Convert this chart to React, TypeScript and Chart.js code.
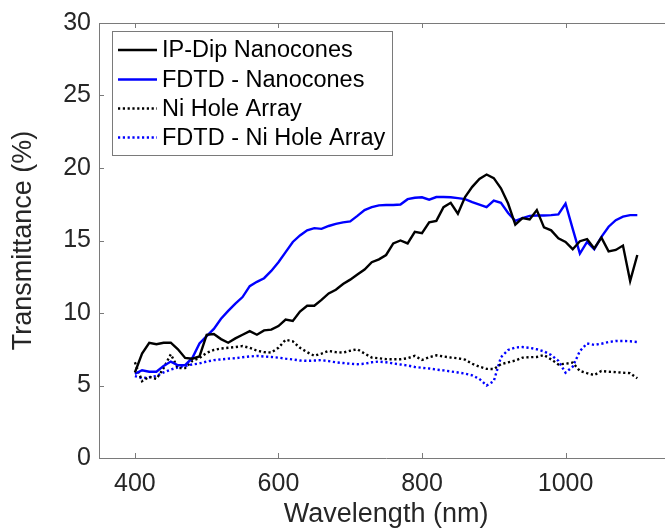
import React, { useEffect, useRef } from 'react';
import { Chart, registerables } from 'chart.js';

Chart.register(...registerables);

const wavelengths = [
  400, 410, 420, 430, 440, 450, 460, 470, 480, 490,
  500, 510, 520, 530, 540, 550, 560, 570, 580, 590,
  600, 610, 620, 630, 640, 650, 660, 670, 680, 690,
  700, 710, 720, 730, 740, 750, 760, 770, 780, 790,
  800, 810, 820, 830, 840, 850, 860, 870, 880, 890,
  900, 910, 920, 930, 940, 950, 960, 970, 980, 990,
  1000, 1010, 1020, 1030, 1040, 1050, 1060, 1070, 1080, 1090,
  1100,
];

const ipDipNanocones = [
  5.9, 7.2, 7.95, 7.85, 7.95, 7.95, 7.5, 6.9, 6.85, 7.0,
  8.5, 8.55, 8.2, 7.95, 8.25, 8.5, 8.75, 8.5, 8.8, 8.85,
  9.1, 9.55, 9.45, 10.1, 10.5, 10.5, 10.9, 11.35, 11.6, 12.0,
  12.3, 12.65, 13.0, 13.5, 13.7, 14.0, 14.8, 15.0, 14.8, 15.6,
  15.5, 16.25, 16.35, 17.3, 17.6, 16.85, 18.0, 18.7, 19.25, 19.55,
  19.3, 18.6, 17.55, 16.1, 16.55, 16.45, 17.1, 15.9, 15.7, 15.15,
  14.9, 14.4, 14.95, 15.1, 14.45, 15.2, 14.25, 14.35, 14.65, 12.2,
  14.0,
];

const fdtdNanocones = [
  5.8, 6.05, 5.95, 5.95, 6.35, 6.65, 6.4, 6.4, 6.9, 7.9,
  8.4, 8.9, 9.6, 10.15, 10.65, 11.1, 11.85, 12.15, 12.4, 12.9,
  13.5, 14.2, 14.9, 15.35, 15.7, 15.85, 15.8, 16.0, 16.15, 16.25,
  16.32, 16.7, 17.1, 17.3, 17.42, 17.45, 17.45, 17.48, 17.85, 17.95,
  17.98, 17.82, 18.0, 18.0, 17.98, 17.92, 17.85, 17.65, 17.48, 17.3,
  17.75, 17.6, 16.9, 16.35, 16.55, 16.7, 16.72, 16.72, 16.75, 16.8,
  17.55, 15.8, 14.1, 14.9, 14.4, 15.25, 15.95, 16.4, 16.65, 16.75,
  16.75,
];

const niHoleArray = [
  6.6, 5.3, 5.6, 5.45, 6.2, 7.15, 6.2, 6.2, 6.7, 6.9,
  7.25, 7.45, 7.55, 7.6, 7.65, 7.72, 7.6, 7.4, 7.3, 7.27,
  7.6, 8.15, 8.05, 7.6, 7.3, 7.05, 7.2, 7.38, 7.3, 7.27,
  7.4, 7.5, 7.2, 6.93, 6.88, 6.82, 6.81, 6.81, 6.88, 7.04,
  6.76, 6.95, 7.08, 7.0, 6.93, 6.88, 6.78, 6.5, 6.3, 6.15,
  6.13, 6.47, 6.6, 6.72, 6.92, 6.95, 6.97, 7.1, 6.8, 6.45,
  6.5, 6.58, 6.0, 5.85, 5.72, 6.0, 5.95, 5.92, 5.88, 5.85,
  5.5,
];

const fdtdNiHoleArray = [
  5.65, 5.5, 5.57, 5.65, 5.9, 6.1, 6.25, 6.35, 6.45, 6.52,
  6.65, 6.75, 6.8, 6.85, 6.88, 6.95, 7.0, 7.04, 7.0, 6.97,
  6.92, 6.85, 6.8, 6.72, 6.7, 6.72, 6.75, 6.68, 6.6, 6.55,
  6.5, 6.47, 6.5, 6.6, 6.65, 6.6, 6.52, 6.45, 6.38, 6.28,
  6.22, 6.17, 6.1, 6.04, 5.97, 5.9, 5.82, 5.7, 5.45, 5.0,
  5.3, 6.95, 7.45, 7.62, 7.65, 7.6, 7.5, 7.35, 7.1, 6.7,
  5.88, 6.3, 7.38, 7.9, 7.8, 7.88, 8.0, 8.07, 8.07, 8.05,
  8.0,
];

const seriesLabels = ['IP-Dip Nanocones', 'FDTD - Nanocones', 'Ni Hole Array', 'FDTD - Ni Hole Array'];
const xTickValues = [400, 600, 800, 1000];
const yTickValues = [0, 5, 10, 15, 20, 25, 30];

const FONT = "'Liberation Sans', Arial, Helvetica, sans-serif";
const AXIS_COLOR = '#7a7a7a';
const TEXT_COLOR = '#262626';

const toPoints = (ys: number[]) => ys.map((y, i) => ({ x: wavelengths[i], y }));

const frameAndLegend = {
  id: 'frameAndLegend',
  afterDatasetsDraw(chart: any) {
    const { ctx, chartArea } = chart;
    const { left, right, top, bottom } = chartArea;
    const xs = chart.scales.x;
    const ys = chart.scales.y;
    ctx.save();
    ctx.strokeStyle = AXIS_COLOR;
    ctx.lineWidth = 1;
    ctx.beginPath();
    ctx.moveTo(left, Math.round(top) + 0.5);
    ctx.lineTo(right + 10, Math.round(top) + 0.5);
    ctx.stroke();
    const tl = 5;
    ctx.beginPath();
    xTickValues.forEach((v) => {
      const px = Math.round(xs.getPixelForValue(v)) + 0.5;
      ctx.moveTo(px, bottom);
      ctx.lineTo(px, bottom - tl);
      ctx.moveTo(px, top);
      ctx.lineTo(px, top + tl);
    });
    yTickValues.forEach((v) => {
      const py = Math.round(ys.getPixelForValue(v)) + 0.5;
      ctx.moveTo(left, py);
      ctx.lineTo(left + tl, py);
      ctx.moveTo(right, py);
      ctx.lineTo(right - tl, py);
    });
    ctx.stroke();

    const bx = 112.5, by = 31.5, bw = 280, bh = 124;
    ctx.fillStyle = '#ffffff';
    ctx.fillRect(bx, by, bw, bh);
    ctx.strokeStyle = AXIS_COLOR;
    ctx.strokeRect(bx, by, bw, bh);
    const rows = [50, 79.5, 108.5, 137.5];
    chart.data.datasets.forEach((ds: any, i: number) => {
      const y = rows[i];
      ctx.strokeStyle = ds.borderColor;
      ctx.lineWidth = ds.borderWidth;
      ctx.setLineDash(ds.borderDash || []);
      ctx.lineCap = 'butt';
      ctx.beginPath();
      ctx.moveTo(118, y);
      ctx.lineTo(157, y);
      ctx.stroke();
      ctx.setLineDash([]);
      ctx.fillStyle = '#000000';
      ctx.font = `23.5px ${FONT}`;
      ctx.textBaseline = 'middle';
      ctx.textAlign = 'left';
      ctx.fillText(ds.label, 162, y + 1);
    });
    ctx.restore();
  },
};

export default function App() {
  const canvasRef = useRef<HTMLCanvasElement | null>(null);

  useEffect(() => {
    if (!canvasRef.current) return;
    const chart = new Chart(canvasRef.current, {
      type: 'line',
      data: {
        datasets: [
          {
            label: seriesLabels[0],
            data: toPoints(ipDipNanocones),
            borderColor: '#000000',
            borderWidth: 2.4,
            pointRadius: 0,
            tension: 0,
          },
          {
            label: seriesLabels[1],
            data: toPoints(fdtdNanocones),
            borderColor: '#0000ff',
            borderWidth: 2.4,
            pointRadius: 0,
            tension: 0,
          },
          {
            label: seriesLabels[2],
            data: toPoints(niHoleArray),
            borderColor: '#000000',
            borderWidth: 2.4,
            borderDash: [2.2, 2.6],
            pointRadius: 0,
            tension: 0,
          },
          {
            label: seriesLabels[3],
            data: toPoints(fdtdNiHoleArray),
            borderColor: '#0000ff',
            borderWidth: 2.4,
            borderDash: [2.2, 2.6],
            pointRadius: 0,
            tension: 0,
          },
        ],
      },
      options: {
        animation: false,
        responsive: false,
        maintainAspectRatio: false,
        layout: { padding: { left: 0, top: 19, right: 6.8, bottom: 0 } },
        plugins: { legend: { display: false }, tooltip: { enabled: false } },
        scales: {
          x: {
            type: 'linear',
            min: 350,
            max: 1150,
            afterBuildTicks: (scale: any) => {
              scale.ticks = xTickValues.map((v) => ({ value: v }));
            },
            afterFit: (scale: any) => {
              scale.height = 73;
            },
            grid: { display: false, tickLength: 0 },
            border: { display: true, color: AXIS_COLOR, width: 1 },
            ticks: {
              autoSkip: false,
              maxRotation: 0,
              padding: 11,
              color: TEXT_COLOR,
              font: { family: FONT, size: 25 },
              callback: (v: any) => String(v),
            },
            title: {
              display: true,
              text: 'Wavelength (nm)',
              color: TEXT_COLOR,
              font: { family: FONT, size: 27 },
              padding: { top: 0, bottom: 0 },
            },
          },
          y: {
            type: 'linear',
            min: 0,
            max: 30,
            afterBuildTicks: (scale: any) => {
              scale.ticks = yTickValues.map((v) => ({ value: v }));
            },
            afterFit: (scale: any) => {
              scale.width = 99;
            },
            grid: { display: false, tickLength: 0 },
            border: { display: true, color: AXIS_COLOR, width: 1 },
            ticks: {
              padding: 8,
              color: TEXT_COLOR,
              font: { family: FONT, size: 25 },
              callback: (v: any) => String(v),
            },
            title: {
              display: true,
              text: 'Transmittance (%)',
              color: TEXT_COLOR,
              font: { family: FONT, size: 27 },
              padding: { top: 7, bottom: 0 },
            },
          },
        },
      },
      plugins: [frameAndLegend],
    });
    return () => chart.destroy();
  }, []);

  return (
    <div
      style={{
        position: 'fixed',
        left: 0,
        top: 0,
        width: 665,
        height: 531,
        overflow: 'hidden',
        background: '#ffffff',
      }}
    >
      <canvas ref={canvasRef} width={680} height={531} style={{ display: 'block', width: 680, height: 531 }} />
    </div>
  );
}
